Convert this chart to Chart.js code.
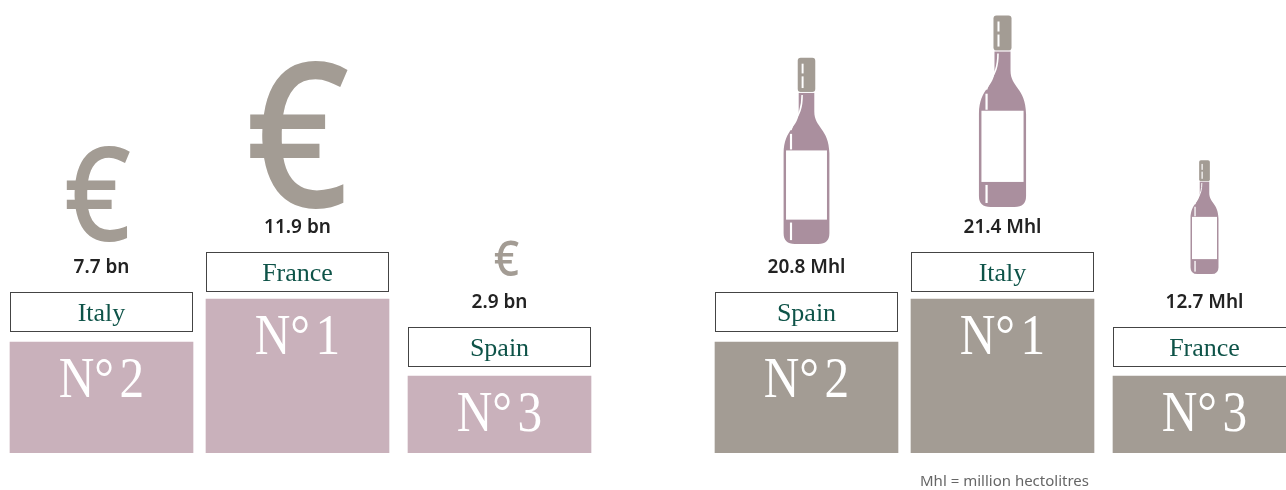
<!DOCTYPE html>
<html>
<head>
<meta charset="utf-8">
<style>
  html, body { margin: 0; padding: 0; width: 1286px; height: 490px; background: #fff; overflow: hidden; }
  canvas { position: absolute; top: 0; }
</style>
<script src="https://cdn.jsdelivr.net/npm/chart.js@4/dist/chart.umd.min.js"></script>
</head>
<body>
<canvas id="revenue" width="643" height="490" style="left:0"></canvas>
<canvas id="volume" width="700" height="490" style="left:643px"></canvas>
<script>
var revenueCountries = ['Italy', 'France', 'Spain'];
var revenueRanks = ['N° 2', 'N° 1', 'N° 3'];
var revenueValues = [7.7, 11.9, 2.9];
var revenueLabels = ['7.7 bn', '11.9 bn', '2.9 bn'];

var volumeCountries = ['Spain', 'Italy', 'France'];
var volumeRanks = ['N° 2', 'N° 1', 'N° 3'];
var volumeValues = [20.8, 21.4, 12.7];
var volumeLabels = ['20.8 Mhl', '21.4 Mhl', '12.7 Mhl'];

// height of each podium step
var podiumSteps = [111, 154, 77];
var footnote = 'Mhl = million hectolitres';

var SERIF = '"Liberation Serif", serif';
var SANS = '"Noto Sans", sans-serif';

function drawEuro(ctx, x, bottom, value){
  ctx.save();
  ctx.translate(x, bottom + 1);
  ctx.scale(0.9, 1);
  ctx.fillStyle = '#a39c94';
  ctx.font = '500 ' + (value * 17) + 'px ' + SANS;
  ctx.textAlign = 'center';
  ctx.textBaseline = 'alphabetic';
  ctx.fillText('€', 0, 0);
  ctx.restore();
}

// bottle drawn in a 47 x 191 box, origin at top centre
function drawBottle(ctx, x, bottom, value){
  var s = value * 8.95 / 191;
  ctx.save();
  ctx.translate(x, bottom - 191 * s);
  ctx.scale(s, s);

  ctx.fillStyle = '#aa8f9e';
  ctx.beginPath();
  ctx.moveTo(-8, 35);
  ctx.lineTo(-8, 55);
  ctx.bezierCurveTo(-8, 72, -23, 72, -23.5, 98);
  ctx.lineTo(-23.5, 180);
  ctx.quadraticCurveTo(-23.5, 191, -12, 191);
  ctx.lineTo(12, 191);
  ctx.quadraticCurveTo(23.5, 191, 23.5, 180);
  ctx.lineTo(23.5, 98);
  ctx.bezierCurveTo(23, 72, 8, 72, 8, 55);
  ctx.lineTo(8, 35);
  ctx.closePath();
  ctx.fill();

  ctx.fillStyle = '#a39c94';
  ctx.beginPath();
  ctx.roundRect(-9, 0, 18, 35, 3);
  ctx.fill();

  ctx.fillStyle = '#fff';
  ctx.fillRect(-21, 95, 42, 71);
  ctx.fillRect(-17, 169, 2.2, 18);
  ctx.fillRect(-17, 78, 2.2, 16);
  ctx.fillRect(-5, 6, 2, 10);
  ctx.fillRect(-5, 19, 2, 12);
  ctx.fillRect(-9, 35, 18, 1);
  ctx.strokeStyle = '#fff';
  ctx.lineWidth = 1.6;
  ctx.beginPath();
  ctx.moveTo(-4.5, 38);
  ctx.bezierCurveTo(-4.5, 60, -13, 62, -16, 74);
  ctx.stroke();
  ctx.restore();
}

var podiumLabels = {
  id: 'podiumLabels',
  afterDatasetsUpdate: function(chart){
    // the middle step sits a little closer to the first one
    chart.getDatasetMeta(0).data[1].x -= 3;
  },
  afterDatasetsDraw: function(chart, args, opts){
    var ctx = chart.ctx;
    var bars = chart.getDatasetMeta(0).data;
    // gap between the country box and its step
    var gaps = [10, 7, 9];
    var iconGaps = opts.iconGaps;
    var iconShifts = opts.iconShifts;

    ctx.save();
    for(var i = 0; i < bars.length; i++){
      var bar = bars[i];
      var boxBottom = bar.y - gaps[i];
      var boxTop = boxBottom - 40;

      ctx.fillStyle = '#fff';
      ctx.strokeStyle = '#444';
      ctx.lineWidth = 1;
      ctx.fillRect(bar.x - 91.5, boxTop, 183, 40);
      ctx.strokeRect(bar.x - 91, Math.round(boxTop) + 0.5, 182, 39);

      ctx.textAlign = 'center';
      ctx.textBaseline = 'alphabetic';
      ctx.fillStyle = '#0e5348';
      ctx.font = '26px ' + SERIF;
      ctx.fillText(opts.countries[i], bar.x, boxTop + 29);

      ctx.fillStyle = '#222';
      ctx.font = '600 19px ' + SANS;
      ctx.fillText(opts.labels[i], bar.x, boxTop - 19);

      ctx.save();
      ctx.translate(bar.x, bar.y + 55);
      ctx.scale(0.85, 1);
      ctx.fillStyle = '#fff';
      ctx.font = '58px ' + SERIF;
      ctx.wordSpacing = '-8px';
      ctx.fillText(opts.ranks[i], 0, 0);
      ctx.restore();

      opts.icon(ctx, bar.x + iconShifts[i], boxTop - iconGaps[i], opts.values[i]);
    }
    if(opts.note){
      ctx.fillStyle = '#666';
      ctx.font = '15px ' + SANS;
      ctx.textAlign = 'center';
      ctx.fillText(opts.note, bars[1].x + 2, 486);
    }
    ctx.restore();
  }
};

function podiumChart(id, color, padLeft, padRight, options){
  return new Chart(document.getElementById(id).getContext('2d'), {
    type: 'bar',
    data: {
      labels: options.countries,
      datasets: [{ data: podiumSteps, backgroundColor: color, barThickness: 183 }]
    },
    options: {
      responsive: false,
      animation: false,
      layout: { padding: { left: padLeft, right: padRight, top: 0, bottom: 37 } },
      scales: {
        x: { display: false },
        y: { display: false, min: 0, max: 453 }
      },
      plugins: {
        legend: { display: false },
        tooltip: { enabled: false },
        podiumLabels: options
      }
    },
    plugins: [podiumLabels]
  });
}

podiumChart('revenue', '#c9b1bb', 2, 44, {
  countries: revenueCountries, ranks: revenueRanks, values: revenueValues,
  labels: revenueLabels, icon: drawEuro, iconGaps: [52, 46, 52], iconShifts: [-4, 0, 7]
});
podiumChart('volume', '#a39c94', 64, 39, {
  countries: volumeCountries, ranks: volumeRanks, values: volumeValues,
  labels: volumeLabels, icon: drawBottle, iconGaps: [48, 45, 53], iconShifts: [0, 0, 0], note: footnote
});
</script>
</body>
</html>
